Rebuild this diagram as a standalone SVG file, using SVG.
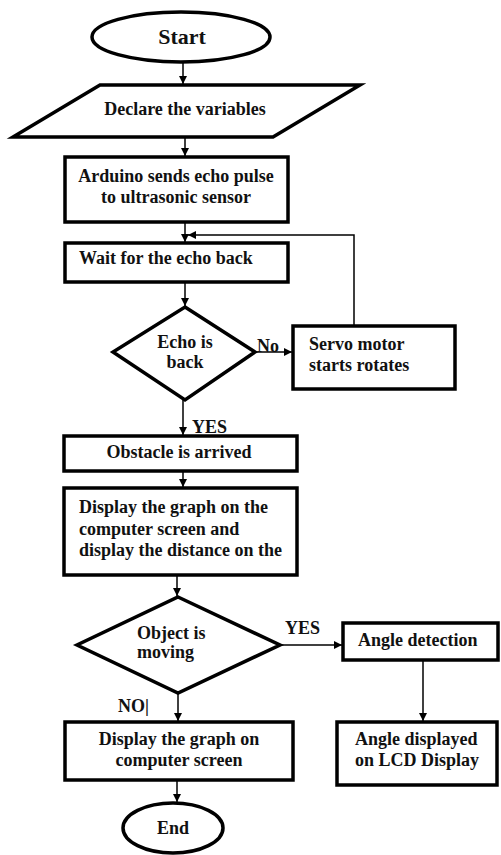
<svg xmlns="http://www.w3.org/2000/svg" width="501" height="855" viewBox="0 0 501 855">
<defs>
<marker id="ah" viewBox="0 0 10 10" refX="10" refY="5" markerWidth="8" markerHeight="8" markerUnits="userSpaceOnUse" orient="auto">
<path d="M0,0 L10,5 L0,10 z" fill="#000"/>
</marker>
<style>
.s{fill:#fff;stroke:#000;stroke-width:3.5;}
.c{fill:none;stroke:#000;stroke-width:1.5;}
.t{font-family:"Liberation Serif","Times New Roman",serif;font-weight:bold;font-size:18px;fill:#111;}
.m{text-anchor:middle;}
</style>
</defs>
<rect width="501" height="855" fill="#fff"/>
<g id="connectors">
<path class="c" d="M183,63 V84" marker-end="url(#ah)"/>
<path class="c" d="M185,138 V156" marker-end="url(#ah)"/>
<path class="c" d="M185,223 V242" marker-end="url(#ah)"/>
<path class="c" d="M354,325 V235 H188" marker-end="url(#ah)"/>
<path class="c" d="M185,283 V306" marker-end="url(#ah)"/>
<path class="c" d="M255,352 H292" marker-end="url(#ah)"/>
<path class="c" d="M183,400 V435" marker-end="url(#ah)"/>
<path class="c" d="M183,472 V487" marker-end="url(#ah)"/>
<path class="c" d="M177,576 V596" marker-end="url(#ah)"/>
<path class="c" d="M280,645 H342" marker-end="url(#ah)"/>
<path class="c" d="M423,661 V721" marker-end="url(#ah)"/>
<path class="c" d="M178,693 V721" marker-end="url(#ah)"/>
<path class="c" d="M177,781 V802" marker-end="url(#ah)"/>
</g>
<g id="start">
<ellipse class="s" cx="181" cy="37" rx="89" ry="25"/>
<text class="t m" x="182" y="44" style="font-size:22px">Start</text>
</g>
<g id="declare">
<polygon class="s" points="100,85 360,85 273,137 13,137"/>
<text class="t m" x="185" y="115">Declare the variables</text>
</g>
<g id="arduino">
<rect class="s" x="65" y="157" width="223" height="65"/>
<text class="t m" x="176" y="182">Arduino sends echo pulse</text>
<text class="t m" x="176" y="203">to ultrasonic sensor</text>
</g>
<g id="wait">
<rect class="s" x="65" y="243" width="223" height="39"/>
<text class="t" x="79" y="264">Wait for the echo back</text>
</g>
<g id="echo">
<polygon class="s" points="185,307 255,352 185,400 113,352"/>
<text class="t m" x="185" y="348">Echo is</text>
<text class="t m" x="185" y="368">back</text>
</g>
<g id="servo">
<rect class="s" x="293" y="326" width="162" height="63"/>
<text class="t" x="309" y="350">Servo motor</text>
<text class="t" x="309" y="371">starts rotates</text>
</g>
<text class="t" x="257" y="352">No</text>
<text class="t" x="192" y="433">YES</text>
<g id="obstacle">
<rect class="s" x="64" y="436" width="233" height="35"/>
<text class="t m" x="179" y="458">Obstacle is arrived</text>
</g>
<g id="display1">
<rect class="s" x="64" y="488" width="233" height="87"/>
<text class="t" x="79" y="513">Display the graph on the</text>
<text class="t" x="79" y="535">computer screen and</text>
<text class="t" x="79" y="556">display the distance on the</text>
</g>
<g id="moving">
<polygon class="s" points="178,597 280,645 178,693 77,645"/>
<text class="t" x="137" y="639">Object is</text>
<text class="t" x="137" y="658">moving</text>
</g>
<text class="t" x="285" y="634">YES</text>
<text class="t" x="118" y="712">NO|</text>
<g id="angle">
<rect class="s" x="343" y="623" width="155" height="37"/>
<text class="t" x="358" y="646">Angle detection</text>
</g>
<g id="lcd">
<rect class="s" x="337" y="722" width="160" height="63"/>
<text class="t" x="355" y="745">Angle displayed</text>
<text class="t" x="355" y="766">on LCD Display</text>
</g>
<g id="display2">
<rect class="s" x="65" y="722" width="228" height="58"/>
<text class="t m" x="179" y="745">Display the graph on</text>
<text class="t m" x="179" y="766">computer screen</text>
</g>
<g id="end">
<ellipse class="s" cx="173" cy="828" rx="50" ry="25"/>
<text class="t m" x="173" y="834">End</text>
</g>
</svg>
